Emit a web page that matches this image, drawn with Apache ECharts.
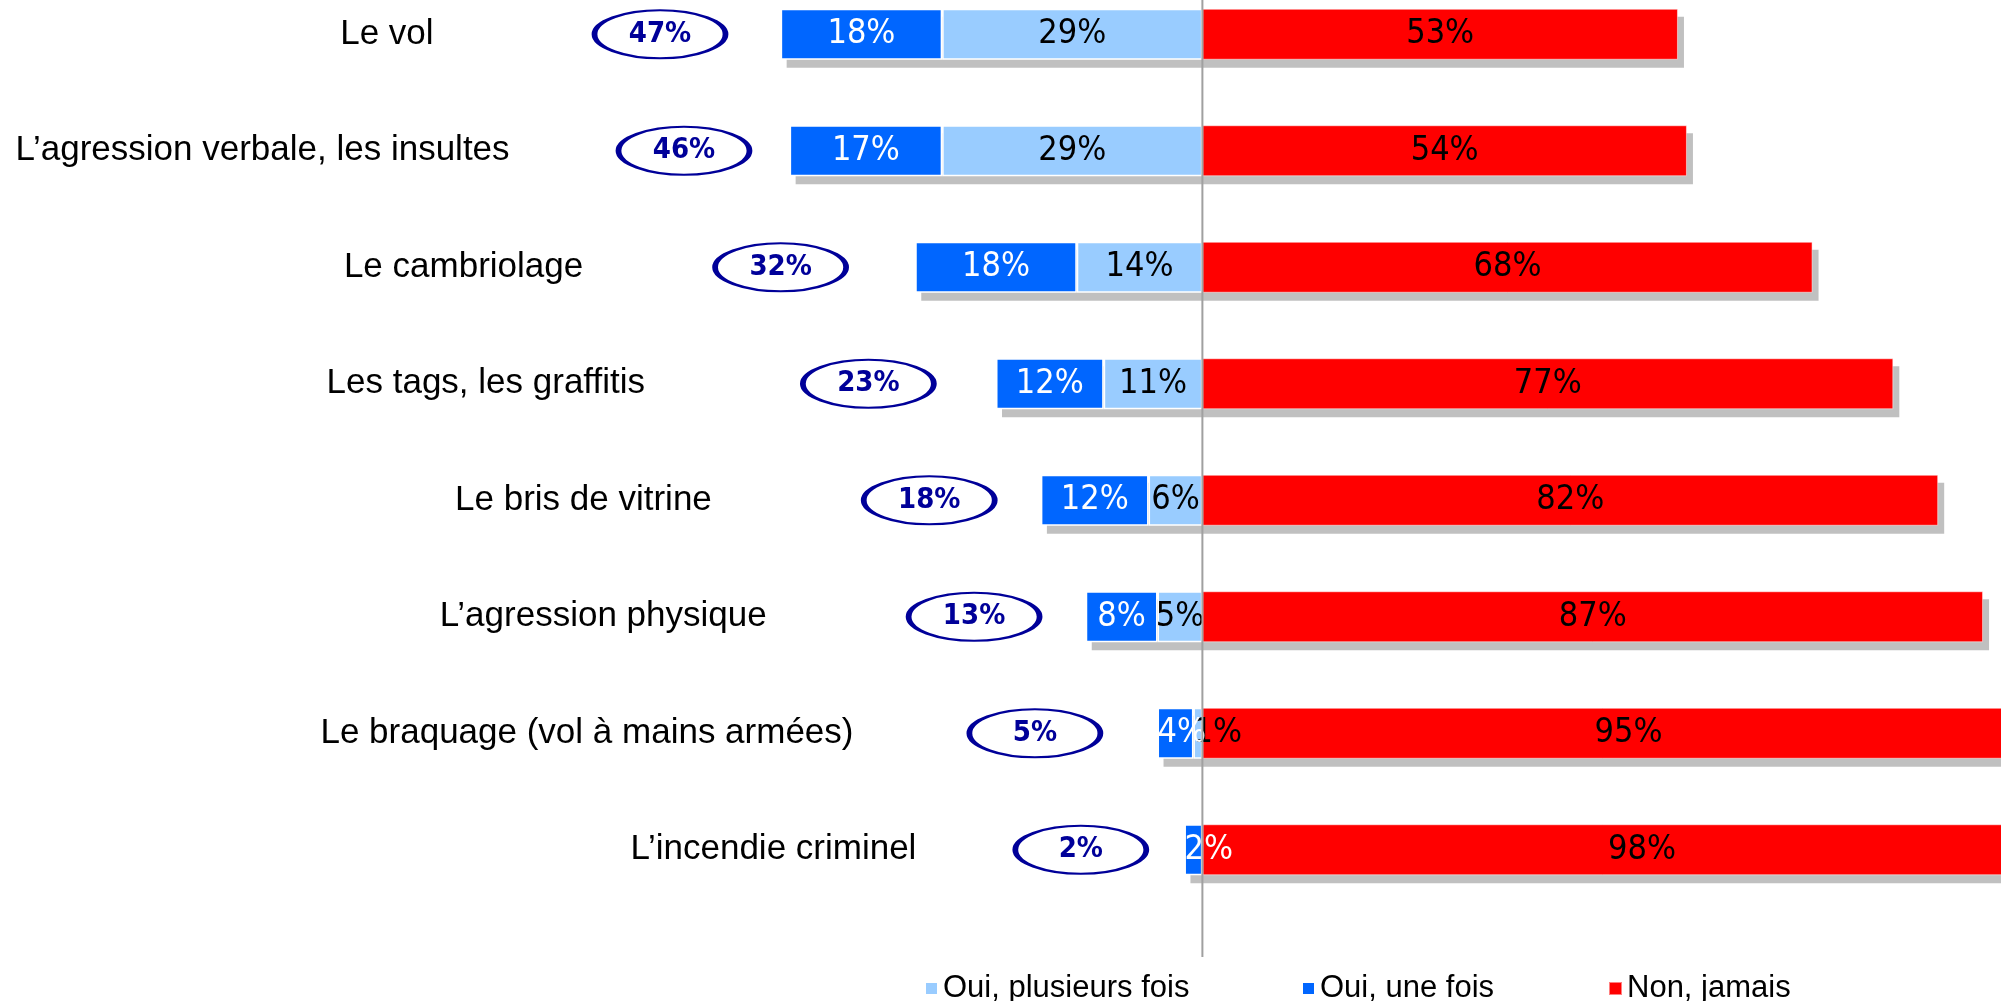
<!DOCTYPE html>
<html>
<head>
<meta charset="utf-8">
<script src="https://cdn.jsdelivr.net/npm/echarts@6/dist/echarts.min.js"></script>
<style>html,body{margin:0;padding:0;background:#fff;}#c{width:2001px;height:1001px;}</style>
</head>
<body>
<div id="c"></div>
<script>
const categories = ["Le vol", "L’agression verbale, les insultes", "Le cambriolage", "Les tags, les graffitis", "Le bris de vitrine", "L’agression physique", "Le braquage (vol à mains armées)", "L’incendie criminel"];
const plusieursFois = [29, 29, 14, 11, 6, 5, 1, 0];
const uneFois = [18, 17, 18, 12, 12, 8, 4, 2];
const jamais = [53, 54, 68, 77, 82, 87, 95, 98];
const totals = [47, 46, 32, 23, 18, 13, 5, 2];
const seriesNames = ["Oui, plusieurs fois", "Oui, une fois", "Non, jamais"];

// layout nudges (px) for the free-floating text boxes of the original slide
const catLabelShift = [-33, 34, -18, -37, -15, -5, 10, 46];
const ellipseShift = [-4, 11, -18, -11, 5, 5, -6, 13];

const NARROW = '"Liberation Sans Narrow", "DejaVu Sans Condensed", "Liberation Sans", sans-serif';
const SANS = '"Liberation Sans", "DejaVu Sans", sans-serif';
const ELLIPSE = 'path://M50,0 C77.6,0 100,22.4 100,50 C100,77.6 77.6,100 50,100 C22.4,100 0,77.6 0,50 C0,22.4 22.4,0 50,0 Z';
const BAR_W = 51;

function pctLabel(color) {
  return {
    show: true, position: 'inside', color: color, fontFamily: NARROW, fontSize: 34,
    formatter: p => (Math.abs(p.value) > 0 ? Math.abs(p.value) + '%' : '')
  };
}
// narrow segments: label starts at the segment's left edge (as in the original)
function leftItems(values) {
  return values.map(v => (v > 0 && v <= 4)
    ? {value: -v, label: {position: 'insideLeft', distance: 0}}
    : -v);
}

const legendBase = {top: 968, itemWidth: 13, itemHeight: 13, icon: 'rect',
  textStyle: {fontFamily: SANS, fontSize: 31, color: '#000'}};

const chart = echarts.init(document.getElementById('c'), null, {renderer: 'canvas'});
chart.setOption({
  animation: false,
  backgroundColor: '#ffffff',
  grid: {left: 0, right: 0, top: -24, bottom: 93, containLabel: false, outerBoundsMode: 'none'},
  xAxis: {type: 'value', min: -134, max: 89, show: false, splitLine: {show: false}},
  yAxis: {type: 'category', data: categories, inverse: true, show: false},
  legend: [
    Object.assign({left: 919, data: [seriesNames[0]]}, legendBase),
    Object.assign({left: 1296, data: [seriesNames[1]]}, legendBase),
    Object.assign({left: 1603, data: [seriesNames[2]]}, legendBase)
  ],
  series: [
    {
      name: 'shadow', type: 'custom', z: 1, silent: true, clip: false,
      data: totals.map((t, i) => [-t, jamais[i], i]),
      encode: {x: [0, 1], y: 2},
      renderItem: function (params, api) {
        const idx = api.value(2);
        const l = api.coord([api.value(0), idx]);
        const r = api.coord([api.value(1), idx]);
        return {type: 'rect', shape: {x: l[0] + 6, y: l[1] - BAR_W / 2 + 8, width: r[0] - l[0], height: BAR_W},
          style: {fill: '#c0c0c0'}};
      }
    },
    {
      name: seriesNames[0], type: 'bar', stack: 'a', barWidth: BAR_W, z: 3, clip: false,
      data: leftItems(plusieursFois),
      itemStyle: {color: '#99ccff', borderColor: '#ffffff', borderWidth: 1.5},
      label: pctLabel('#000000')
    },
    {
      name: seriesNames[1], type: 'bar', stack: 'a', barWidth: BAR_W, z: 4, clip: false,
      data: leftItems(uneFois),
      itemStyle: {color: '#0066ff', borderColor: '#ffffff', borderWidth: 1.5},
      label: pctLabel('#ffffff')
    },
    {
      name: seriesNames[2], type: 'bar', stack: 'a', barWidth: BAR_W, z: 2, clip: false,
      data: jamais,
      itemStyle: {color: '#ff0000', borderColor: 'rgba(255,255,255,0.5)', borderWidth: 1},
      label: pctLabel('#000000')
    },
    {
      name: 'totals', type: 'scatter', z: 6, silent: true,
      symbol: ELLIPSE, symbolSize: [131, 48], symbolKeepAspect: false,
      data: totals.map((t, i) => ({value: [-(t + 13), i], symbolOffset: [ellipseShift[i], 0]})),
      itemStyle: {color: '#ffffff', borderColor: '#000099', borderWidth: 3.5, opacity: 1},
      label: {show: true, position: 'inside', color: '#000099', fontFamily: NARROW, fontWeight: 'bold', fontSize: 29,
        formatter: p => totals[p.dataIndex] + '%'}
    },
    {
      name: 'cats', type: 'scatter', z: 6, silent: true, symbolSize: 0,
      itemStyle: {opacity: 1},
      data: totals.map((t, i) => ({value: [-(t + 35), i], label: {offset: [catLabelShift[i], 0]}})),
      label: {show: true, position: 'left', distance: 0, color: '#000000', fontFamily: SANS, fontSize: 35,
        formatter: p => categories[p.dataIndex]}
    }
  ]
});
const x0 = chart.convertToPixel({xAxisIndex: 0}, 0);
chart.setOption({
  graphic: [{type: 'line', z: 5, shape: {x1: x0, y1: 0, x2: x0, y2: 957}, style: {stroke: '#a0a0a0', lineWidth: 2}}]
});
</script>
</body>
</html>
